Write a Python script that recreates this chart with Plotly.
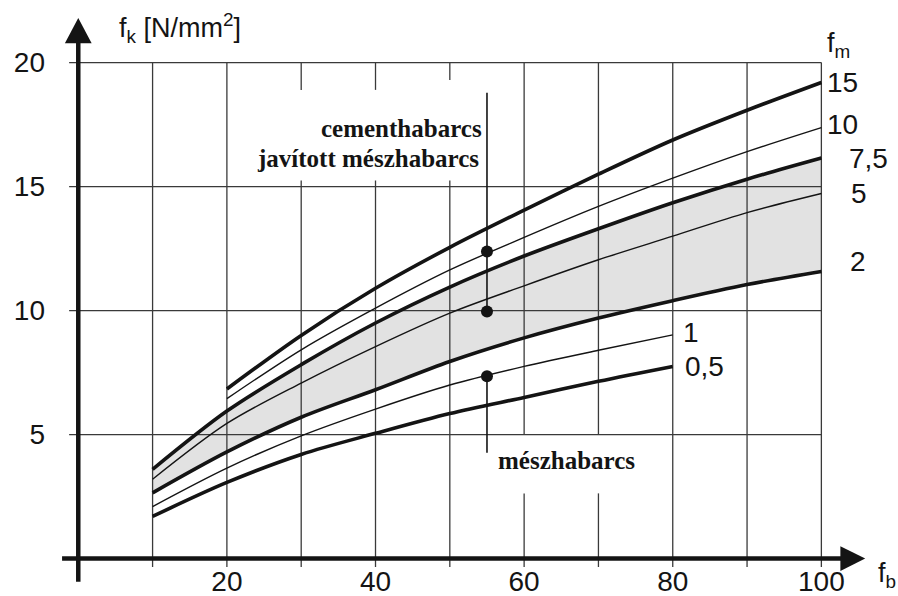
import plotly.graph_objects as go

# ---------------- data ----------------
x_full = [10, 20, 30, 40, 50, 60, 70, 80, 90, 100]
x_high = [20, 30, 40, 50, 60, 70, 80, 90, 100]
x_low = [10, 20, 30, 40, 50, 60, 70, 80]

fm15 = [6.84, 9.0, 10.9, 12.55, 14.05, 15.5, 16.88, 18.08, 19.2]
fm10 = [6.45, 8.42, 10.1, 11.64, 12.95, 14.2, 15.34, 16.41, 17.38]
fm7_5 = [3.6, 5.95, 7.82, 9.5, 10.95, 12.2, 13.3, 14.35, 15.3, 16.15]
fm5 = [3.2, 5.45, 7.08, 8.55, 9.9, 11.0, 12.05, 13.0, 13.95, 14.72]
fm2 = [2.65, 4.3, 5.7, 6.81, 7.95, 8.9, 9.7, 10.4, 11.05, 11.58]
fm1 = [2.1, 3.65, 4.95, 6.03, 7.0, 7.75, 8.4, 9.02]
fm0_5 = [1.7, 3.07, 4.2, 5.05, 5.85, 6.5, 7.15, 7.75]

marker_x = 55
marker_y = [12.38, 9.96, 7.35]
marker_line_upper = [18.78, 9.96]
marker_line_lower = [7.35, 4.27]

grid_x = [10, 20, 30, 40, 50, 60, 70, 80, 90, 100]
grid_y = [5, 10, 15, 20]
x_ticks = [20, 40, 60, 80, 100]
y_ticks = [5, 10, 15, 20]

# ---------------- layout constants ----------------
W, H = 898, 596
ML, MR, MT, MB = 55, 0, 0, 12
PX0, PXS = 78.27, 7.431     # pixel of x=0, pixels per x unit
PY0, PYS = 558.6, 24.8      # pixel of y=0, pixels per y unit
x_range = [(ML - PX0) / PXS, (W - MR - PX0) / PXS]
y_range = [(PY0 - (H - MB)) / PYS, (PY0 - MT) / PYS]

INK = "#141414"
GRID = "#3a3a3a"
SHADE = "#e2e2e2"
SANS = "Liberation Sans, Arial, sans-serif"
SERIF = "Liberation Serif, Times New Roman, serif"
SMOOTH = 0.9

fig = go.Figure()

# shaded band between f_m = 2 and f_m = 7.5
fig.add_trace(go.Scatter(x=x_full, y=fm2, mode="lines", line=dict(width=0, shape="spline", smoothing=SMOOTH),
                         hoverinfo="skip", showlegend=False))
fig.add_trace(go.Scatter(x=x_full, y=fm7_5, mode="lines", fill="tonexty", fillcolor=SHADE,
                         line=dict(width=0, shape="spline", smoothing=SMOOTH), hoverinfo="skip", showlegend=False))

# grid (with gaps around the text labels) + small ticks
grid_bottom = -0.34
tick_left = -1.23
gaps = {30: (15.25, 18.9), 40: (15.25, 18.9), 50: (15.25, 19.3), 60: (2.63, 5.0), 70: (2.63, 5.0)}
gx, gy = [], []
for x in grid_x:
    if x in gaps:
        lo, hi = gaps[x]
        gx += [x, x, None, x, x, None]
        gy += [grid_bottom, lo, None, hi, grid_y[-1], None]
    else:
        gx += [x, x, None]
        gy += [grid_bottom, grid_y[-1], None]
for y in grid_y:
    gx += [tick_left, grid_x[-1], None]
    gy += [y, y, None]
fig.add_trace(go.Scatter(x=gx, y=gy, mode="lines", line=dict(color=GRID, width=1.3),
                         hoverinfo="skip", showlegend=False))

# axes with arrow heads
ax_x_start, ax_x_end, ax_x_tip = -2.18, 102.66, 105.9
ax_y_start, ax_y_end, ax_y_tip = -0.93, 20.83, 21.8
fig.add_trace(go.Scatter(x=[ax_x_start, ax_x_end], y=[0, 0], mode="lines",
                         line=dict(color=INK, width=4.5), hoverinfo="skip", showlegend=False))
fig.add_trace(go.Scatter(x=[0, 0], y=[ax_y_start, ax_y_end], mode="lines",
                         line=dict(color=INK, width=4.5), hoverinfo="skip", showlegend=False))
fig.add_trace(go.Scatter(x=[ax_x_end - 0.1, ax_x_tip, ax_x_end - 0.1, ax_x_end - 0.1], y=[0.5, 0, -0.5, 0.5],
                         mode="lines", fill="toself", fillcolor=INK, line=dict(width=0, color=INK),
                         hoverinfo="skip", showlegend=False))
fig.add_trace(go.Scatter(x=[-1.8, 0, 1.8, -1.8], y=[ax_y_end - 0.05, ax_y_tip, ax_y_end - 0.05, ax_y_end - 0.05],
                         mode="lines", fill="toself", fillcolor=INK, line=dict(width=0, color=INK),
                         hoverinfo="skip", showlegend=False))

# f_m curves
curves = [
    ("15", x_high, fm15, True),
    ("10", x_high, fm10, False),
    ("7,5", x_full, fm7_5, True),
    ("5", x_full, fm5, False),
    ("2", x_full, fm2, True),
    ("1", x_low, fm1, False),
    ("0,5", x_low, fm0_5, True),
]
label_shift = {"15": (4, 0), "10": (4, 3), "7,5": (26, 0), "5": (28, 0), "2": (27, 10),
               "1": (8, 2), "0,5": (10, 0)}
for name, xs, ys, thick in curves:
    fig.add_trace(go.Scatter(x=xs, y=ys, mode="lines", name="f_m = " + name,
                             line=dict(color=INK, width=3.6 if thick else 1.4, shape="spline", smoothing=SMOOTH),
                             showlegend=False))
    dx, dy = label_shift[name]
    fig.add_annotation(x=xs[-1], y=ys[-1], text=name, showarrow=False, xanchor="left", yanchor="middle",
                       xshift=dx, yshift=dy, font=dict(family=SANS, size=28, color=INK))

# reading lines and points at f_b = 55
fig.add_trace(go.Scatter(x=[marker_x, marker_x, None, marker_x, marker_x],
                         y=marker_line_upper + [None] + marker_line_lower, mode="lines",
                         line=dict(color=INK, width=1.6), hoverinfo="skip", showlegend=False))
fig.add_trace(go.Scatter(x=[marker_x] * len(marker_y), y=marker_y, mode="markers",
                         marker=dict(color=INK, size=12), showlegend=False))

# text labels
fig.add_annotation(x=marker_x, y=17.36, xshift=-3, text="<b>cementhabarcs</b>", showarrow=False,
                   xanchor="right", yanchor="middle", font=dict(family=SERIF, size=25, color=INK))
fig.add_annotation(x=marker_x, y=16.13, xshift=-6, text="<b>javított mészhabarcs</b>", showarrow=False,
                   xanchor="right", yanchor="middle", font=dict(family=SERIF, size=25, color=INK))
fig.add_annotation(x=marker_x, y=3.97, xshift=9, text="<b>mészhabarcs</b>", showarrow=False,
                   xanchor="left", yanchor="middle", font=dict(family=SERIF, size=25, color=INK))

fig.add_annotation(x=5.2, y=21.4, text="f<sub>k</sub> [N/mm<sup>2</sup>]", showarrow=False,
                   xanchor="left", yanchor="middle", font=dict(family=SANS, size=27, color=INK))
fig.add_annotation(x=100, y=20.71, xshift=4, text="f<sub>m</sub>", showarrow=False,
                   xanchor="left", yanchor="middle", font=dict(family=SANS, size=27, color=INK))
fig.add_annotation(x=0.974, y=0.015, xref="paper", yref="paper", text="f<sub>b</sub>", showarrow=False,
                   xanchor="left", yanchor="middle", font=dict(family=SANS, size=27, color=INK))

fig.update_layout(
    width=W, height=H,
    margin=dict(l=ML, r=MR, t=MT, b=MB, pad=0, autoexpand=False),
    paper_bgcolor="white", plot_bgcolor="white",
    showlegend=False,
    xaxis=dict(range=x_range, showgrid=False, zeroline=False, showline=False, ticks="", automargin=False,
               tickvals=x_ticks, ticktext=[str(v) for v in x_ticks], ticklabelstandoff=-22,
               tickfont=dict(family=SANS, size=28, color=INK), fixedrange=True),
    yaxis=dict(range=y_range, showgrid=False, zeroline=False, showline=False, ticks="", automargin=False,
               tickvals=y_ticks, ticktext=[str(v) for v in y_ticks], ticklabelstandoff=9,
               tickfont=dict(family=SANS, size=28, color=INK), fixedrange=True),
)

fig.write_html("out.html")
